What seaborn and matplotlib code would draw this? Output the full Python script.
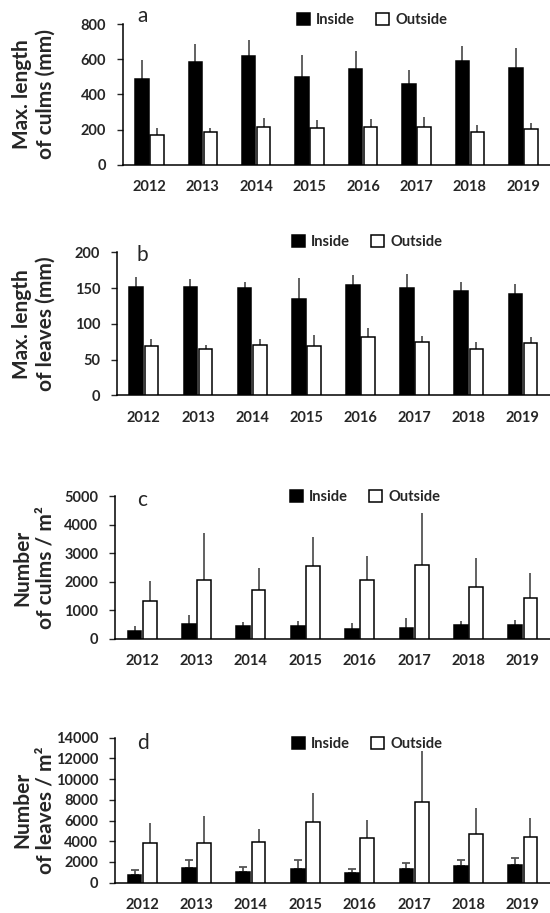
import numpy as np
import pandas as pd
import matplotlib
matplotlib.use("Agg")
import matplotlib.pyplot as plt
import seaborn as sns

# years and mean / sd
years = ["2012", "2013", "2014", "2015", "2016", "2017", "2018", "2019"]

culm_len_in = [489, 584, 616, 499, 546, 459, 591, 552]
culm_len_in_sd = [106, 102, 91, 123, 100, 79, 86, 112]
culm_len_out = [171, 184, 216, 209, 216, 216, 184, 201]
culm_len_out_sd = [39, 26, 47, 45, 44, 57, 40, 36]

leaf_len_in = [152, 152, 150, 134, 154, 150, 146, 142]
leaf_len_in_sd = [14, 11, 9, 30, 14, 19, 12, 14]
leaf_len_out = [69, 65, 71, 69, 82, 75, 65, 73]
leaf_len_out_sd = [10, 5, 8, 16, 12, 8, 9, 8]

culm_num_in = [292, 537, 444, 444, 339, 385, 491, 491]
culm_num_in_sd = [164, 292, 152, 175, 233, 363, 140, 175]
culm_num_out = [1332, 2056, 1729, 2547, 2056, 2593, 1811, 1425]
culm_num_out_sd = [689, 1647, 759, 1016, 841, 1811, 1028, 888]

leaf_num_in = [772, 1447, 1029, 1318, 900, 1318, 1576, 1704]
leaf_num_in_sd = [450, 707, 514, 836, 418, 579, 578, 643]
leaf_num_out = [3794, 3794, 3891, 5884, 4277, 7749, 4695, 4405]
leaf_num_out_sd = [1929, 2637, 1286, 2733, 1736, 4952, 2508, 1801]

sns.set_style("ticks")
plt.rcParams["font.family"] = ["Lato", "DejaVu Sans"]

W, H = 550, 913
fig = plt.figure(figsize=(W / 100, H / 100), dpi=100)

panels = [
    # letter, ylabel, inside, inside sd, outside, outside sd, ymax, step,
    # axes box (left, top, bottom px), legend centre px, letter y px, caps
    ("a", "Max. length\nof culms (mm)", culm_len_in, culm_len_in_sd, culm_len_out, culm_len_out_sd,
     800, 200, (122.7, 24, 164.7), (372, 20), 16, False),
    ("b", "Max. length\nof leaves (mm)", leaf_len_in, leaf_len_in_sd, leaf_len_out, leaf_len_out_sd,
     200, 50, (116.7, 252.3, 395.3), (367, 242), 255, False),
    ("c", "Number\nof culms / m²", culm_num_in, culm_num_in_sd, culm_num_out, culm_num_out_sd,
     5000, 1000, (115, 496.3, 639), (365, 497), 500, False),
    ("d", "Number\nof leaves / m²", leaf_num_in, leaf_num_in_sd, leaf_num_out, leaf_num_out_sd,
     14000, 2000, (115, 737.7, 882.7), (367, 744), 743, True),
]

for letter, ylab, vin, sin, vout, sout, ymax, step, box, legpos, lety, caps in panels:
    left, top, bottom = box
    ax = fig.add_axes([left / W, 1 - bottom / H, 1 - left / W, (bottom - top) / H])

    df = pd.DataFrame({
        "year": years * 2,
        "value": vin + vout,
        "site": ["Inside"] * 8 + ["Outside"] * 8,
    })
    sns.barplot(data=df, x="year", y="value", hue="site",
                palette={"Inside": "black", "Outside": "white"},
                edgecolor="black", linewidth=1.1, width=0.56, gap=0.1,
                errorbar=None, ax=ax, zorder=3)

    # upward-only error bars on each hue container
    for cont, vals, sds, cap in zip(ax.containers, [vin, vout], [sin, sout], [caps, False]):
        xs = [b.get_x() + b.get_width() / 2 for b in cont]
        ax.errorbar(xs, vals, yerr=[np.zeros(len(sds)), sds], fmt="none",
                    ecolor="#555555", elinewidth=1.3, capsize=3 if cap else 0,
                    capthick=1.3, zorder=2)

    ax.set_xlim(-0.5, 7.5)
    ax.set_ylim(0, ymax)
    ax.set_yticks(np.arange(0, ymax + 1, step))
    ax.set_xlabel("")
    ax.set_ylabel(ylab, fontsize=15, fontweight="bold", linespacing=1.25, va="center")
    ax.yaxis.set_label_coords((34 - left) / (W - left), 0.5)
    for s in ["top", "right"]:
        ax.spines[s].set_visible(False)
    for s in ["left", "bottom"]:
        ax.spines[s].set_linewidth(1.1)
        ax.spines[s].set_color("black")
    ax.tick_params(axis="y", length=4, width=1, pad=8, labelsize=10.5)
    ax.tick_params(axis="x", length=0, pad=11, labelsize=10.5)
    for t in ax.get_xticklabels() + ax.get_yticklabels():
        t.set_fontweight("bold")

    fig.text(137 / W, 1 - lety / H, letter, fontsize=15, va="center")

    handles, labels = ax.get_legend_handles_labels()
    ax.legend(handles, labels, loc="center", ncol=2, frameon=False,
              bbox_to_anchor=(legpos[0] / W, 1 - legpos[1] / H),
              bbox_transform=fig.transFigure,
              prop={"weight": "bold", "size": 10.5},
              handlelength=0.9, handleheight=0.9, handletextpad=0.45,
              columnspacing=1.4, borderpad=0)

fig.savefig("out.png", dpi=100)
